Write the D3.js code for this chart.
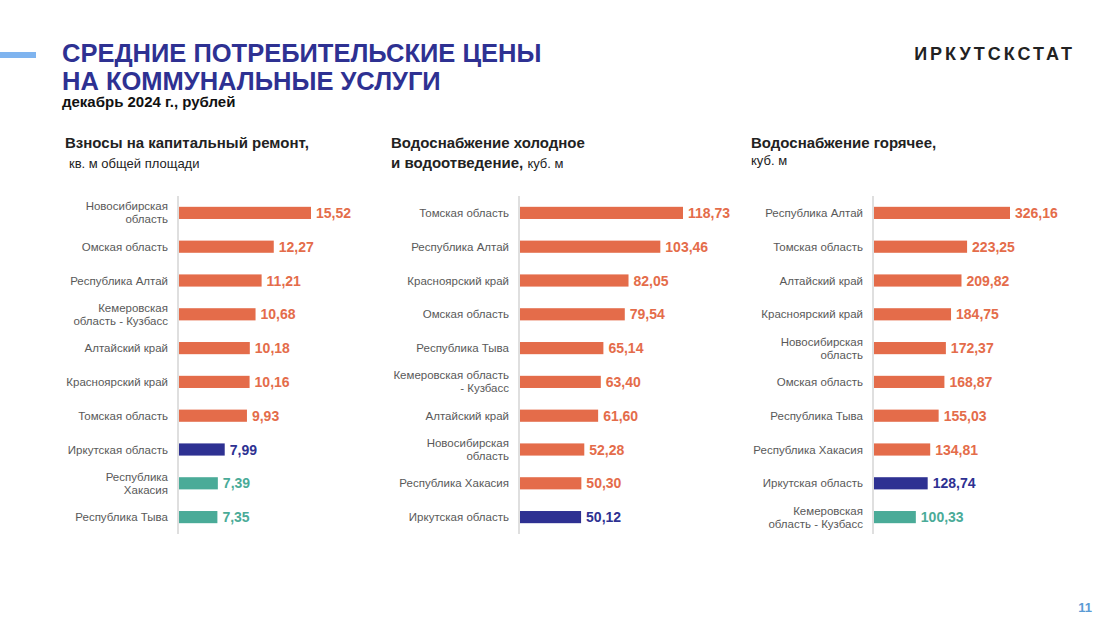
<!DOCTYPE html>
<html><head><meta charset="utf-8">
<script src="https://cdn.jsdelivr.net/npm/d3@7"></script>
<style>body{margin:0;background:#fff}svg{font-family:Arial,"Liberation Sans",sans-serif}</style>
</head><body><svg id="c" width="1112" height="626"></svg>
<script>
const cats1 = ["Новосибирская\nобласть","Омская область","Республика Алтай","Кемеровская\nобласть - Кузбасс","Алтайский край","Красноярский край","Томская область","Иркутская область","Республика\nХакасия","Республика Тыва"];
const vals1 = [15.52,12.27,11.21,10.68,10.18,10.16,9.93,7.99,7.39,7.35];
const grp1 = ["o","o","o","o","o","o","o","n","t","t"];
const cats2 = ["Томская область","Республика Алтай","Красноярский край","Омская область","Республика Тыва","Кемеровская область\n- Кузбасс","Алтайский край","Новосибирская\nобласть","Республика Хакасия","Иркутская область"];
const vals2 = [118.73,103.46,82.05,79.54,65.14,63.40,61.60,52.28,50.30,50.12];
const grp2 = ["o","o","o","o","o","o","o","o","o","n"];
const cats3 = ["Республика Алтай","Томская область","Алтайский край","Красноярский край","Новосибирская\nобласть","Омская область","Республика Тыва","Республика Хакасия","Иркутская область","Кемеровская\nобласть - Кузбасс"];
const vals3 = [326.16,223.25,209.82,184.75,172.37,168.87,155.03,134.81,128.74,100.33];
const grp3 = ["o","o","o","o","o","o","o","o","n","t"];
const colors = {o:"#e46c4a", n:"#2e3192", t:"#4aab98"};

const svg = d3.select("#c");
svg.append("rect").attr("x",0).attr("y",52).attr("width",36).attr("height",6).attr("fill","#7fb4ef");
svg.append("text").attr("x",62).attr("y",62).attr("font-size",25.5).attr("font-weight","bold").attr("fill","#2e3192").text("СРЕДНИЕ ПОТРЕБИТЕЛЬСКИЕ ЦЕНЫ");
svg.append("text").attr("x",62).attr("y",90).attr("font-size",25.5).attr("font-weight","bold").attr("fill","#2e3192").text("НА КОММУНАЛЬНЫЕ УСЛУГИ");
svg.append("text").attr("x",62).attr("y",107).attr("font-size",15).attr("font-weight","bold").attr("fill","#111").text("декабрь 2024 г., рублей");
svg.append("text").attr("x",1075).attr("y",60).attr("text-anchor","end").attr("font-size",18).attr("font-weight","bold").attr("letter-spacing",3).attr("fill","#222").text("ИРКУТСКСТАТ");
svg.append("text").attr("x",1092).attr("y",612).attr("text-anchor","end").attr("font-size",13).attr("font-weight","bold").attr("fill","#5b9bd5").text("11");

function t(x,y,s,opts){const e=svg.append("text").attr("x",x).attr("y",y).attr("font-size",opts.fs||15).attr("fill","#222");if(opts.b)e.attr("font-weight","bold");e.text(s);return e;}
t(65,148,"Взносы на капитальный ремонт,",{b:1});
t(69,168,"кв. м общей площади",{fs:13});
t(391,148,"Водоснабжение холодное",{b:1});
const l2=svg.append("text").attr("x",391).attr("y",168).attr("fill","#222");
l2.append("tspan").attr("font-size",15).attr("font-weight","bold").text("и водоотведение, ");
l2.append("tspan").attr("font-size",13).text(" куб. м");
t(751,148,"Водоснабжение горячее,",{b:1});
t(751,165,"куб. м",{fs:13});

function panel(cats,vals,grp,x0,w,dmin,dmax){
  const x=d3.scaleLinear().domain([dmin,dmax]).range([x0,x0+w]);
  const y=d3.scaleBand().domain(d3.range(cats.length)).range([196,534]).paddingInner(0.64).paddingOuter(0.32);
  const g=svg.append("g");
  g.append("line").attr("x1",x0).attr("x2",x0).attr("y1",196).attr("y2",534).attr("stroke","#bfbfbf");
  vals.forEach((v,i)=>{
    const cy=y(i)+y.bandwidth()/2;
    g.append("rect").attr("x",x0+1).attr("y",y(i)).attr("width",x(v)-x0).attr("height",y.bandwidth()).attr("fill",colors[grp[i]]);
    g.append("text").attr("x",x(v)+6).attr("y",cy+5).attr("font-size",14).attr("font-weight","bold").attr("fill",colors[grp[i]]).text(v.toFixed(2).replace(".",","));
    const lines=cats[i].split("\n");
    const tx=g.append("text").attr("text-anchor","end").attr("font-size",11.5).attr("fill","#595959");
    lines.forEach((s,k)=>tx.append("tspan").attr("x",x0-10).attr("y",cy+4+(k-(lines.length-1)/2)*13).text(s));
  });
}
panel(cats1,vals1,grp1,178,132,4,15.52);
panel(cats2,vals2,grp2,519,163,9,118.73);
panel(cats3,vals3,grp3,873,136,0,326.16);
</script></body></html>
